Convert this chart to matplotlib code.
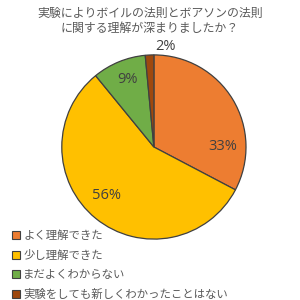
import numpy as np
import matplotlib.pyplot as plt
from matplotlib.patches import Patch

plt.rcParams['font.family'] = ['Noto Sans CJK JP', 'DejaVu Sans']

# data
categories = ['よく理解できた', '少し理解できた', 'まだよくわからない', '実験をしても新しくわかったことはない']
values = [32.7, 56.4, 9.4, 1.5]
pct_labels = ['33%', '56%', '9%', '2%']
colors = ['#ED7D31', '#FFC000', '#70AD47', '#9E480E']
title = '実験によりボイルの法則とボアソンの法則\nに関する理解が深まりましたか？'

# label positions (radius units), like Excel best fit
label_pos = [(0.75, 0.0), (-0.51, -0.53), (-0.29, 0.73), (0.13, 1.09)]

fig = plt.figure(figsize=(3, 3), dpi=100)
ax = fig.add_axes([0.513 - 0.307, 0.51 - 0.307, 0.614, 0.614])
wedges, _ = ax.pie(values, colors=colors, startangle=90, counterclock=False,
                   radius=1, wedgeprops=dict(edgecolor='#404040', linewidth=0.9))
for (x, y), t in zip(label_pos, pct_labels):
    ax.text(x, y, t, ha='center', va='center', fontsize=10.5, color='#404040',
            family=['Open Sans', 'DejaVu Sans'])
ax.set_xlim(-1, 1)
ax.set_ylim(-1, 1)
ax.set_aspect('equal')
ax.axis('off')

fig.text(0.5, 0.978, title, ha='center', va='top', fontsize=8.6, color='#595959',
         linespacing=1.25)

handles = [Patch(facecolor=c, edgecolor='#404040', linewidth=0.8) for c in colors]
fig.legend(handles, categories, loc='upper left', bbox_to_anchor=(0.02, 0.252),
           frameon=False, fontsize=8.2, labelcolor='#595959', handlelength=0.7,
           handleheight=0.7, handletextpad=0.3, labelspacing=0.78, borderpad=0)

fig.savefig('out.png', dpi=100)
